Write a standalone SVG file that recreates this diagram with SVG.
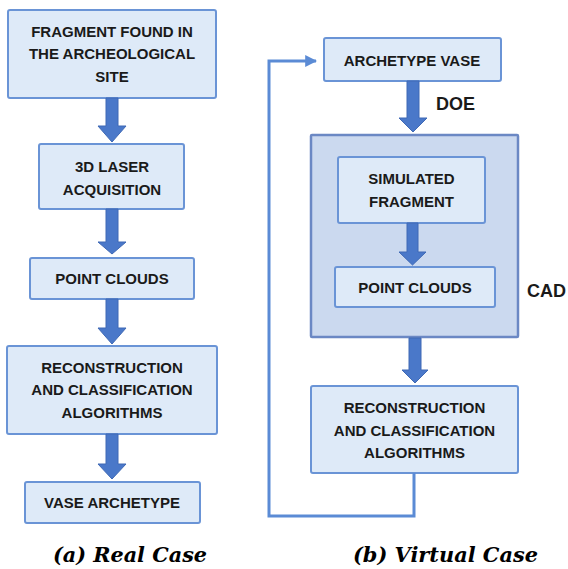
<svg xmlns="http://www.w3.org/2000/svg" width="568" height="569" viewBox="0 0 568 569">
  <defs>
    <style>
      .box { fill: #deeaf8; stroke: #6a94d6; stroke-width: 2; }
      .outer { fill: #cbd9ef; stroke: #6b88c4; stroke-width: 2.5; }
      .lbl { font-family: "Liberation Sans", Arial, sans-serif; font-weight: bold; font-size: 15px; fill: #1a1a1a; text-anchor: middle; }
      .side { font-family: "Liberation Sans", Arial, sans-serif; font-weight: bold; font-size: 18px; fill: #1a1a1a; }
      .cap { font-family: "DejaVu Serif", "Liberation Serif", serif; font-weight: bold; font-style: italic; font-size: 21px; fill: #000; }
      .blk { fill: #4a78c9; stroke: #3f69b5; stroke-width: 1; }
      .wire { fill: none; stroke: #5b8bd5; stroke-width: 3; }
    </style>
    <marker id="tip" viewBox="0 0 10 10" refX="9" refY="5" markerWidth="4" markerHeight="4" orient="auto" markerUnits="strokeWidth">
      <path d="M0,0 L10,5 L0,10 Z" fill="#5b8bd5"/>
    </marker>
  </defs>

  <rect width="568" height="569" fill="#ffffff"/>

  <!-- left column: real case -->
  <g id="fragment-found">
    <rect class="box" x="8" y="10" width="208" height="88" rx="2"/>
    <text class="lbl" x="112" y="37">FRAGMENT FOUND IN</text>
    <text class="lbl" x="112" y="59">THE ARCHEOLOGICAL</text>
    <text class="lbl" x="112" y="82">SITE</text>
  </g>
  <g id="laser-acquisition">
    <rect class="box" x="39" y="144" width="145" height="65" rx="2"/>
    <text class="lbl" x="112" y="172">3D LASER</text>
    <text class="lbl" x="112" y="195">ACQUISITION</text>
  </g>
  <g id="point-clouds-a">
    <rect class="box" x="30" y="258" width="164" height="41" rx="2"/>
    <text class="lbl" x="112" y="284">POINT CLOUDS</text>
  </g>
  <g id="reconstruction-a">
    <rect class="box" x="7" y="346" width="210" height="88" rx="2"/>
    <text class="lbl" x="112" y="373">RECONSTRUCTION</text>
    <text class="lbl" x="112" y="395">AND CLASSIFICATION</text>
    <text class="lbl" x="112" y="418">ALGORITHMS</text>
  </g>
  <g id="vase-archetype">
    <rect class="box" x="25" y="482" width="175" height="41" rx="2"/>
    <text class="lbl" x="112" y="508">VASE ARCHETYPE</text>
  </g>

  <!-- right column: virtual case -->
  <g id="archetype-vase">
    <rect class="box" x="324" y="38" width="177" height="43" rx="2"/>
    <text class="lbl" x="412" y="66">ARCHETYPE VASE</text>
  </g>
  <text class="side" x="436" y="110">DOE</text>
  <g id="cad">
    <rect class="outer" x="311" y="135" width="207" height="202" rx="1"/>
    <text class="side" x="527" y="297">CAD</text>
  </g>
  <g id="simulated-fragment">
    <rect class="box" x="338" y="157" width="147" height="66" rx="2"/>
    <text class="lbl" x="411.5" y="184">SIMULATED</text>
    <text class="lbl" x="411.5" y="207">FRAGMENT</text>
  </g>
  <g id="point-clouds-b">
    <rect class="box" x="335" y="267" width="160" height="40" rx="2"/>
    <text class="lbl" x="415" y="293">POINT CLOUDS</text>
  </g>
  <g id="reconstruction-b">
    <rect class="box" x="311" y="386" width="207" height="87" rx="2"/>
    <text class="lbl" x="414.5" y="413">RECONSTRUCTION</text>
    <text class="lbl" x="414.5" y="436">AND CLASSIFICATION</text>
    <text class="lbl" x="414.5" y="458">ALGORITHMS</text>
  </g>

  <!-- connectors, drawn last so they sit on top of the CAD panel -->
  <g id="connectors">
    <!-- left column block arrows -->
    <path class="blk" d="M106,98 H118 V126 H126 L112,142 L98,126 H106 Z"/>
    <path class="blk" d="M106,209 H118 V242 H126 L112,254 L98,242 H106 Z"/>
    <path class="blk" d="M106,299 H118 V328 H126 L112,344 L98,328 H106 Z"/>
    <path class="blk" d="M106,434 H118 V464 H126 L112,479 L98,464 H106 Z"/>
    <!-- right column block arrows -->
    <path class="blk" d="M407,81 H419 V118 H427 L413,132 L399,118 H407 Z"/>
    <path class="blk" d="M407,223 H418 V252 H426 L412.5,265 L399,252 H407 Z"/>
    <path class="blk" d="M409,338 H421 V370 H428 L415,383 L402,370 H409 Z"/>
    <!-- feedback loop -->
    <path class="wire" d="M414,473 V516 H269 V61 H316" marker-end="url(#tip)"/>
  </g>

  <!-- captions -->
  <text class="cap" x="53" y="562" textLength="154" lengthAdjust="spacingAndGlyphs">(a) Real Case</text>
  <text class="cap" x="353" y="562" textLength="185" lengthAdjust="spacingAndGlyphs">(b) Virtual Case</text>
</svg>
